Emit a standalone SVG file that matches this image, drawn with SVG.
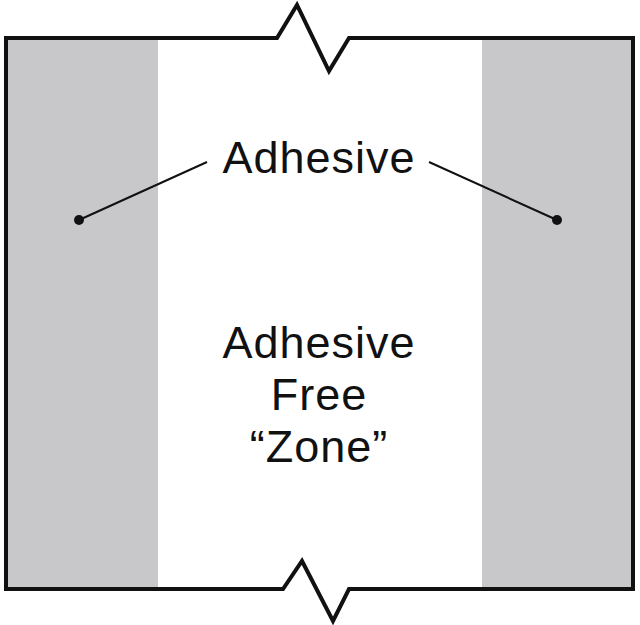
<svg xmlns="http://www.w3.org/2000/svg" width="640" height="625" viewBox="0 0 640 625">
<style>
.band{fill:#c8c8ca;stroke:none}
.outline{fill:none;stroke:#111;stroke-width:4;stroke-linejoin:miter}
.lead{stroke:#111;stroke-width:2;fill:none}
.dot{fill:#111}
text{font-family:"Liberation Sans",Arial,sans-serif;font-size:45px;fill:#111;text-anchor:middle;letter-spacing:1px}
</style>
<rect width="640" height="625" fill="#fff"/>
<g id="left-adhesive"><rect class="band" x="6" y="38" width="152" height="551"/></g>
<g id="right-adhesive"><rect class="band" x="482" y="38" width="151" height="551"/></g>
<g id="outline"><path class="outline" d="M6,38 L277,38 L297,5 L329,71 L349,38 L633,38 L633,589 L349,589 L333,621 L302,561 L283,589 L6,589 Z"/></g>
<g id="connectors">
<line class="lead" x1="79" y1="220" x2="207" y2="162"/>
<line class="lead" x1="429" y1="162" x2="557" y2="220"/>
<circle class="dot" cx="79" cy="220" r="5"/>
<circle class="dot" cx="557" cy="220" r="5"/>
</g>
<g id="label-adhesive"><text x="319" y="173">Adhesive</text></g>
<g id="label-free-zone">
<text x="319" y="358">Adhesive</text>
<text x="319" y="410">Free</text>
<text x="319" y="462">“Zone”</text>
</g>
</svg>
